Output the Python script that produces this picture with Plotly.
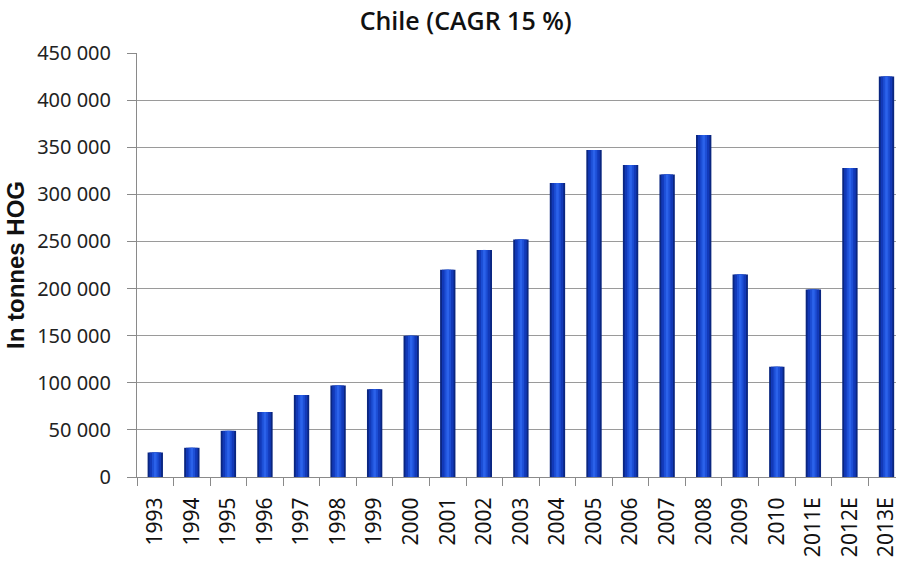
import plotly.graph_objects as go

years = ["1993", "1994", "1995", "1996", "1997", "1998", "1999", "2000", "2001", "2002",
         "2003", "2004", "2005", "2006", "2007", "2008", "2009", "2010", "2011E", "2012E", "2013E"]
volumes = [26000, 31000, 49000, 69000, 87000, 97000, 93000, 150000, 220000, 241000,
           252000, 312000, 347000, 331000, 321000, 363000, 215000, 117000, 199000, 328000, 425000]
y_ticks = [0, 50000, 100000, 150000, 200000, 250000, 300000, 350000, 400000, 450000]

fig = go.Figure()
# layered bars to imitate the cylinder shading
for w, c in [(0.42, "#0a2680"), (0.32, "#1239b8"), (0.18, "#1d4fd6"), (0.07, "#2b62ea")]:
    fig.add_trace(go.Bar(x=years, y=volumes, width=w, marker=dict(color=c, line=dict(width=0)),
                         showlegend=False, hoverinfo="x+y"))

fig.update_layout(
    barmode="overlay",
    width=899, height=567,
    margin=dict(l=137, r=0, t=53, b=90),
    paper_bgcolor="white", plot_bgcolor="white",
    separators=", ",
    title=dict(text="Chile (CAGR 15 %)", x=0.518, xanchor="center", y=0.962, yanchor="middle",
               font=dict(family="Open Sans", size=25, color="#111111", weight=600)),
    font=dict(family="Noto Sans", color="#222222"),
)
fig.update_xaxes(
    type="category", range=[-0.5, 20.26],
    tickangle=-90, tickfont=dict(size=21, color="#111111"),
    ticks="outside", tickson="boundaries", ticklen=8, tickcolor="#8a8a8a",
    ticklabelstandoff=11,
    showline=True, linecolor="#8a8a8a", linewidth=1, showgrid=False,
)
fig.update_yaxes(
    range=[0, 450000], tickvals=y_ticks, tickformat=",d",
    tickfont=dict(size=20, color="#222222"),
    ticks="outside", ticklen=9, tickcolor="#8a8a8a",
    ticklabelstandoff=12,
    showline=True, linecolor="#8a8a8a", linewidth=1,
    showgrid=True, gridcolor="#9a9a9a", gridwidth=1, zeroline=False,
    title=dict(text="<b>In tonnes HOG</b>", font=dict(family="Liberation Sans", size=24, color="#111111"), standoff=5),
)
fig.write_html("out.html")
